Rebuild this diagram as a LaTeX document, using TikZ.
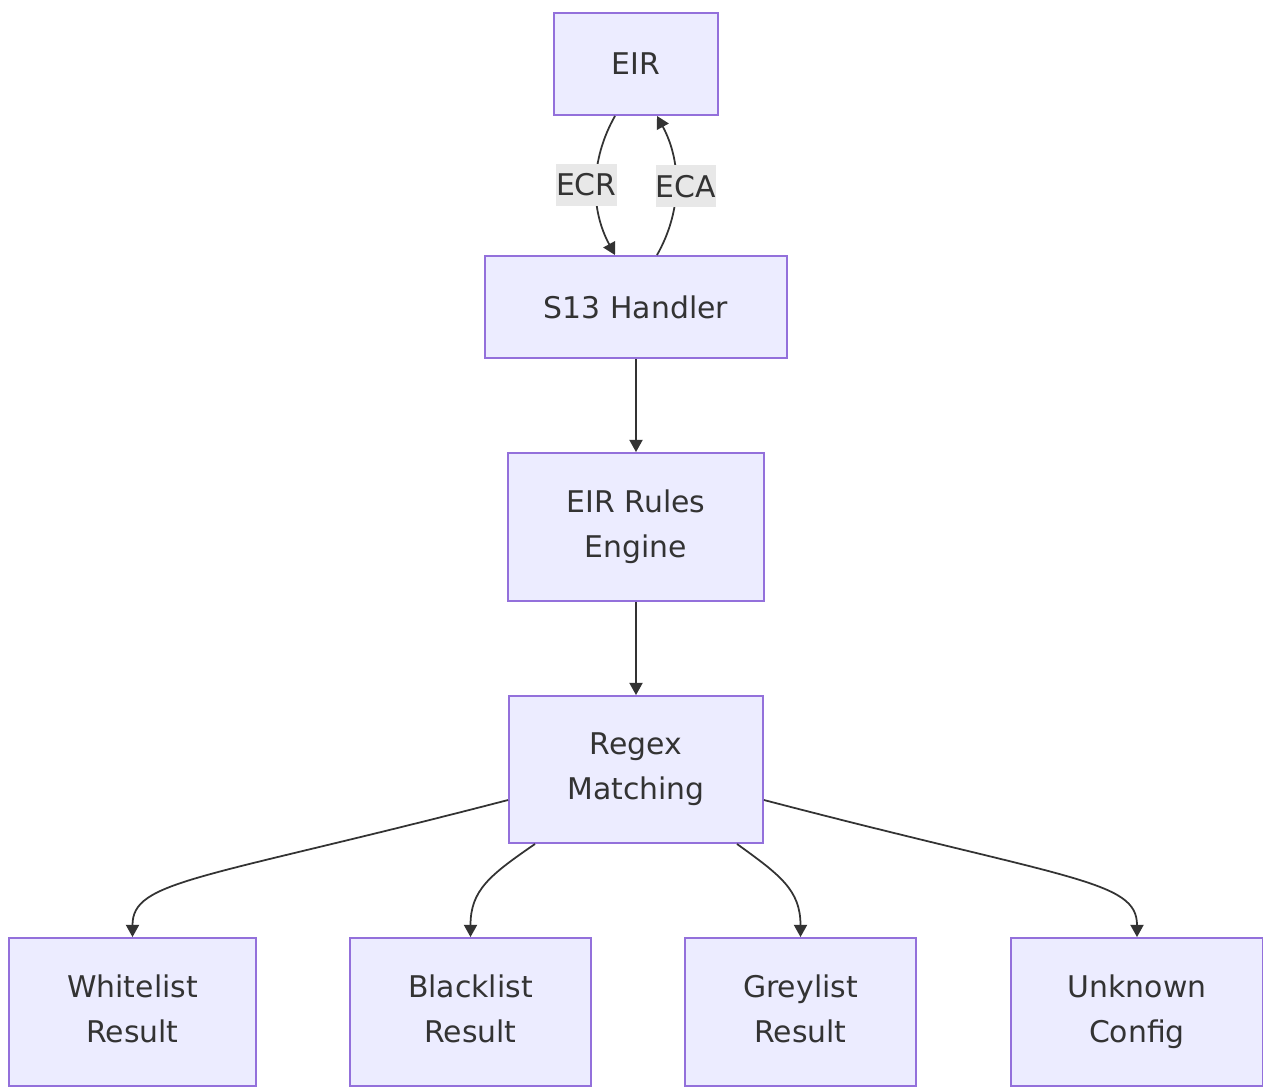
\documentclass[tikz,border=0pt]{standalone}
\usepackage{fontspec}
\setmainfont{DejaVu Sans}
\usetikzlibrary{arrows.meta}
\definecolor{boxfill}{HTML}{ECECFF}
\definecolor{boxline}{HTML}{9370DB}
\definecolor{ink}{HTML}{333333}
\definecolor{lblfill}{HTML}{E8E8E8}
\begin{document}
\begin{tikzpicture}[x=0.02cm,y=-0.02cm,
    box/.style={draw=boxline,fill=boxfill,line width=1.1pt,text=ink,align=center,
      inner sep=0pt,font=\fontsize{17}{25.5}\selectfont},
    lbl/.style={fill=lblfill,text=ink,inner sep=0pt,minimum width=1.2cm,minimum height=0.84cm,
      font=\fontsize{17}{25.5}\selectfont}]
      \useasboundingbox (0,0) rectangle (1263,1086);
      \draw
        (636,64) node[box,minimum width=3.28cm,minimum height=2.04cm] (eir){EIR}
        (636,307) node[box,minimum width=6.04cm,minimum height=2.04cm] (s13){S13 Handler}
        (636,527) node[box,minimum width=5.12cm,minimum height=2.96cm] (rules){EIR Rules\\Engine}
        (636,769.5) node[box,minimum width=5.08cm,minimum height=2.94cm] (regex){Regex\\Matching}
        (132.5,1012) node[box,minimum width=4.94cm,minimum height=2.96cm] (white){Whitelist\\Result\vphantom{g}}
        (470.5,1012) node[box,minimum width=4.82cm,minimum height=2.96cm] (black){Blacklist\\Result\vphantom{g}}
        (800.5,1012) node[box,minimum width=4.62cm,minimum height=2.96cm] (grey){Greylist\\Result\vphantom{g}}
        (1137,1012) node[box,minimum width=5.04cm,minimum height=2.96cm] (unknown){Unknown\\Config};
      \begin{scope}[draw=ink,line width=1pt,-{Triangle[length=7pt,width=7.5pt]}]
        \draw ([xshift=-0.42cm]eir.south) .. controls +(-25,44) and +(-25,-46) .. ([xshift=-0.42cm]s13.north)
          node[pos=0.5,lbl,xshift=-0.2cm] (ecr){ECR};
        \draw ([xshift=0.42cm]s13.north) .. controls +(25,-44) and +(25,46) .. ([xshift=0.42cm]eir.south)
          node[pos=0.5,lbl,xshift=0.2cm] (eca){ECA};
        \draw (s13) to (rules);
        \draw (rules) to (regex);
        \draw ([yshift=-0.61cm]regex.west) .. controls (200,880) and (132.5,880) .. (white.north);
        \draw ([xshift=-2.02cm]regex.south) .. controls (490,875) and (470.5,890) .. (black.north);
        \draw ([xshift=2.02cm]regex.south) .. controls (780,875) and (800.5,890) .. (grey.north);
        \draw ([yshift=-0.61cm]regex.east) .. controls (1070,880) and (1137,880) .. (unknown.north);
      \end{scope}
    \end{tikzpicture}
\end{document}
